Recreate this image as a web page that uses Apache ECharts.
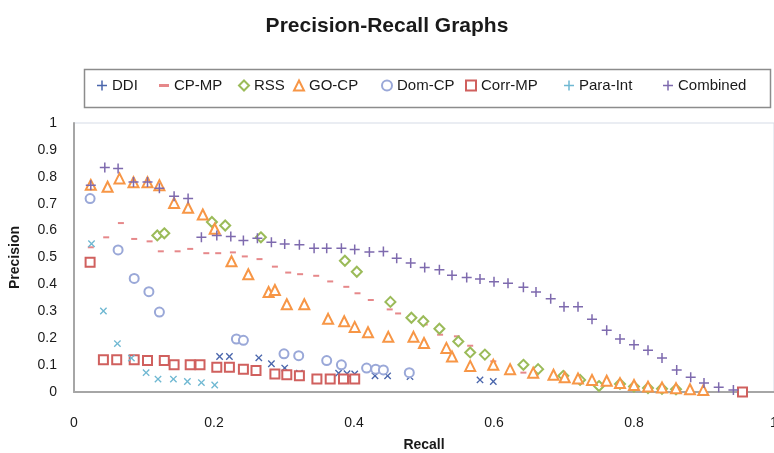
<!DOCTYPE html>
<html><head><meta charset="utf-8">
<script src="https://cdn.jsdelivr.net/npm/echarts@6/dist/echarts.min.js"></script>
<style>html,body{margin:0;padding:0;background:#fff}#c{width:774px;height:453px}</style>
</head><body><div id="c"></div>
<script>
const seriesNames = ['DDI','CP-MP','RSS','GO-CP','Dom-CP','Corr-MP','Para-Int','Combined'];
const xTicks = [0,0.2,0.4,0.6,0.8,1];
const yTicks = [0,0.1,0.2,0.3,0.4,0.5,0.6,0.7,0.8,0.9,1];

const ddiX = [0.208,0.222,0.264,0.282,0.301,0.322,0.378,0.39,0.401,0.43,0.448,0.48,0.58,0.599,0.955];
const ddiY = [0.132,0.132,0.127,0.105,0.089,0.07,0.07,0.068,0.067,0.06,0.06,0.057,0.045,0.039,0.0];

const cpmpX = [0.024,0.046,0.067,0.086,0.108,0.124,0.148,0.166,0.189,0.206,0.227,0.244,0.265,0.287,0.306,0.323,0.346,0.366,0.389,0.405,0.424,0.451,0.463,0.482,0.501,0.523,0.547,0.566,0.587,0.599,0.642,0.659,0.699,0.74,0.78];
const cpmpY = [0.538,0.575,0.628,0.569,0.56,0.523,0.523,0.532,0.516,0.516,0.519,0.504,0.494,0.466,0.444,0.438,0.432,0.411,0.391,0.367,0.342,0.307,0.292,0.28,0.251,0.213,0.207,0.172,0.147,0.114,0.072,0.064,0.057,0.04,0.03];

const rssX = [0.119,0.129,0.197,0.216,0.267,0.387,0.404,0.452,0.482,0.499,0.522,0.549,0.566,0.587,0.642,0.663,0.699,0.723,0.75,0.78,0.80,0.82,0.84,0.86];
const rssY = [0.582,0.59,0.632,0.619,0.575,0.488,0.447,0.335,0.276,0.263,0.235,0.188,0.147,0.139,0.101,0.085,0.06,0.045,0.022,0.03,0.02,0.015,0.012,0.01];

const gocpX = [0.024,0.048,0.065,0.085,0.105,0.122,0.143,0.163,0.184,0.201,0.225,0.249,0.278,0.287,0.304,0.329,0.363,0.386,0.401,0.42,0.449,0.485,0.50,0.532,0.54,0.566,0.599,0.623,0.656,0.685,0.701,0.72,0.74,0.761,0.78,0.80,0.82,0.84,0.86,0.88,0.899];
const gocpY = [0.77,0.763,0.794,0.78,0.78,0.769,0.703,0.685,0.66,0.607,0.486,0.438,0.372,0.379,0.326,0.326,0.272,0.263,0.242,0.222,0.205,0.205,0.182,0.164,0.132,0.097,0.101,0.085,0.072,0.064,0.055,0.05,0.045,0.042,0.033,0.026,0.02,0.017,0.014,0.01,0.007];

const domX = [0.023,0.063,0.086,0.107,0.122,0.232,0.242,0.30,0.321,0.361,0.382,0.418,0.431,0.442,0.479];
const domY = [0.719,0.528,0.422,0.373,0.297,0.197,0.192,0.142,0.135,0.117,0.101,0.089,0.085,0.082,0.072];

const corrX = [0.023,0.042,0.061,0.086,0.105,0.129,0.143,0.166,0.18,0.204,0.222,0.242,0.26,0.287,0.304,0.322,0.347,0.366,0.385,0.401,0.955];
const corrY = [0.482,0.12,0.12,0.12,0.117,0.117,0.101,0.101,0.101,0.092,0.092,0.085,0.08,0.067,0.064,0.06,0.048,0.048,0.048,0.048,0.0];

const paraX = [0.025,0.042,0.062,0.082,0.103,0.12,0.142,0.162,0.182,0.201];
const paraY = [0.551,0.301,0.18,0.126,0.072,0.048,0.048,0.039,0.035,0.026];

const combX = [0.024,0.044,0.063,0.085,0.105,0.122,0.143,0.163,0.182,0.204,0.224,0.242,0.262,0.282,0.301,0.322,0.343,0.361,0.382,0.401,0.422,0.442,0.461,0.481,0.501,0.522,0.54,0.561,0.58,0.60,0.62,0.642,0.66,0.681,0.70,0.72,0.74,0.761,0.78,0.80,0.82,0.84,0.861,0.881,0.90,0.921,0.942];
const combY = [0.769,0.835,0.831,0.781,0.781,0.757,0.728,0.719,0.575,0.582,0.578,0.563,0.572,0.557,0.55,0.547,0.534,0.534,0.534,0.53,0.52,0.522,0.497,0.48,0.463,0.454,0.434,0.426,0.42,0.41,0.404,0.389,0.372,0.347,0.317,0.317,0.27,0.23,0.197,0.176,0.155,0.126,0.082,0.055,0.033,0.018,0.007];

const pairs = (xs, ys) => xs.map((x, i) => [x, ys[i]]);
const FONT = "'Liberation Sans', sans-serif";
const PLUS = 'path://M4.25,0H5.75V4.25H10V5.75H5.75V10H4.25V5.75H0V4.25H4.25Z';
const DASH = 'path://M0,0H10V3H0Z';

const styles = [
  {color:'#4A66AC', symbol: PLUS, size: 9, rotate: 45},
  {color:'#E6888A', symbol: DASH, size: [6,2], rotate: 0},
  {color:'#9BBB59', symbol: 'emptyDiamond', size: 10, rotate: 0},
  {color:'#F79646', symbol: 'emptyTriangle', size: 10, rotate: 0},
  {color:'#9AA8D8', symbol: 'emptyCircle', size: 9, rotate: 0},
  {color:'#D0605E', symbol: 'emptyRect', size: 9, rotate: 0},
  {color:'#6FB8D2', symbol: PLUS, size: 9, rotate: 45},
  {color:'#7E6AAE', symbol: PLUS, size: 10, rotate: 0}
];
const dataSets = [pairs(ddiX,ddiY), pairs(cpmpX,cpmpY), pairs(rssX,rssY), pairs(gocpX,gocpY),
  pairs(domX,domY), pairs(corrX,corrY), pairs(paraX,paraY), pairs(combX,combY)];

const legendLefts = [97, 159, 238, 293, 381, 465, 564, 663];

const chart = echarts.init(document.getElementById('c'), null, {renderer:'canvas'});
chart.setOption({
  animation: false,
  backgroundColor: '#fff',
  title: {text: 'Precision-Recall Graphs', left: 'center', top: 11,
    textStyle: {fontFamily: FONT, fontWeight: 'bold', fontSize: 21, color: '#1a1a1a'}},
  graphic: [{type:'rect', left: 82, top: 67, shape:{width: 686, height: 38},
    style:{fill:'none', stroke:'#8c8c8c', lineWidth: 1.5}, silent: true}],
  legend: seriesNames.map((n, i) => ({
    data: [n], left: legendLefts[i], top: 78, itemWidth: 10, itemHeight: 10, itemGap: 0, padding: 0,
    textStyle: {fontFamily: FONT, fontSize: 15, color: '#1a1a1a'}
  })),
  grid: {left: 74, right: 0, top: 123, bottom: 61, show: true, borderColor: '#d5dbe6', borderWidth: 1,
    containLabel: false, outerBoundsMode: 'none'},
  xAxis: {type: 'value', min: 0, max: 1, interval: 0.2,
    name: 'Recall', nameLocation: 'middle', nameGap: 46,
    nameTextStyle: {fontFamily: FONT, fontWeight: 'bold', fontSize: 14, color: '#1a1a1a'},
    axisLine: {show: true, lineStyle: {color: '#a6a6a6', width: 2}},
    axisTick: {show: false}, splitLine: {show: false},
    axisLabel: {fontFamily: FONT, fontSize: 14, color: '#1a1a1a', margin: 24,
      formatter: v => { const t = xTicks.find(k => Math.abs(k - v) < 1e-9); return t === undefined ? '' : String(t); }}},
  yAxis: {type: 'value', min: 0, max: 1, interval: 0.1,
    name: 'Precision', nameLocation: 'middle', nameGap: 52, nameRotate: 90,
    nameTextStyle: {fontFamily: FONT, fontWeight: 'bold', fontSize: 14, color: '#1a1a1a'},
    axisLine: {show: true, lineStyle: {color: '#a6a6a6', width: 2}},
    axisTick: {show: false}, splitLine: {show: false},
    axisLabel: {fontFamily: FONT, fontSize: 14, color: '#1a1a1a', margin: 17,
      formatter: v => { const t = yTicks.find(k => Math.abs(k - v) < 1e-9); return t === undefined ? '' : String(t); }}},
  series: seriesNames.map((n, i) => ({
    name: n, type: 'scatter', data: dataSets[i],
    symbol: styles[i].symbol, symbolSize: styles[i].size, symbolRotate: styles[i].rotate,
    itemStyle: {color: styles[i].color, borderWidth: 1.2, opacity: 1},
    emphasis: {disabled: true}
  }))
});
</script></body></html>
